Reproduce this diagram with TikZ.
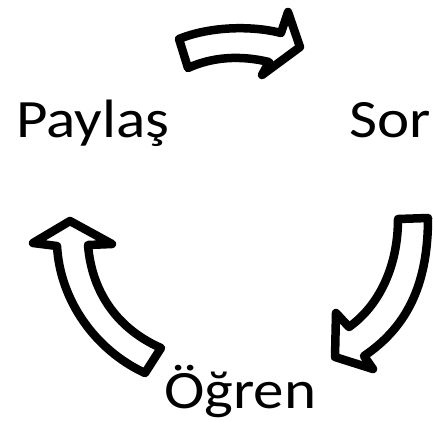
\documentclass[tikz,border=0pt]{standalone}
\usepackage{fontspec}
\setmainfont{Carlito}[FakeStretch=1.13]
\usetikzlibrary{shadows.blur}
\begin{document}
\begin{tikzpicture}[x=1pt,y=-1pt,
  word/.style={inner sep=0pt,font=\fontsize{54}{60}\selectfont},
  arrowbox/.style={draw=black,fill=white,line width=8.5pt,line join=round,
    blur shadow={shadow xshift=1.5pt,shadow yshift=-2.5pt,shadow opacity=25,shadow blur steps=6}}]
\useasboundingbox (0,0) rectangle (433,421);
% the three words of the cycle
\node[word,anchor=base west] (share) at (16,137) {Paylaş};
\node[word,anchor=base west] (ask) at (349,137) {Sor};
\node[word,anchor=base west] (learn) at (164,408) {Öğren};
% curved block arrows between the words
\draw[arrowbox] (179,39) .. controls (208,27) and (250,25) .. (281,33)
  -- (288,12) -- (300,47) -- (262,75) -- (269,62)
  .. controls (240,55) and (212,57) .. (188,68) -- cycle;
\draw[arrowbox] (398,219) -- (428,218) .. controls (428,280) and (410,325) .. (364,356)
  -- (373,369) -- (335,357) -- (336,313) -- (349,327)
  .. controls (380,305) and (398,265) .. (398,219) -- cycle;
\draw[arrowbox] (70,221) -- (33,243) -- (57,246)
  .. controls (60,300) and (95,350) .. (145,373) -- (161,348)
  .. controls (120,330) and (92,295) .. (88,245) -- (112,244) -- cycle;
\end{tikzpicture}
\end{document}
